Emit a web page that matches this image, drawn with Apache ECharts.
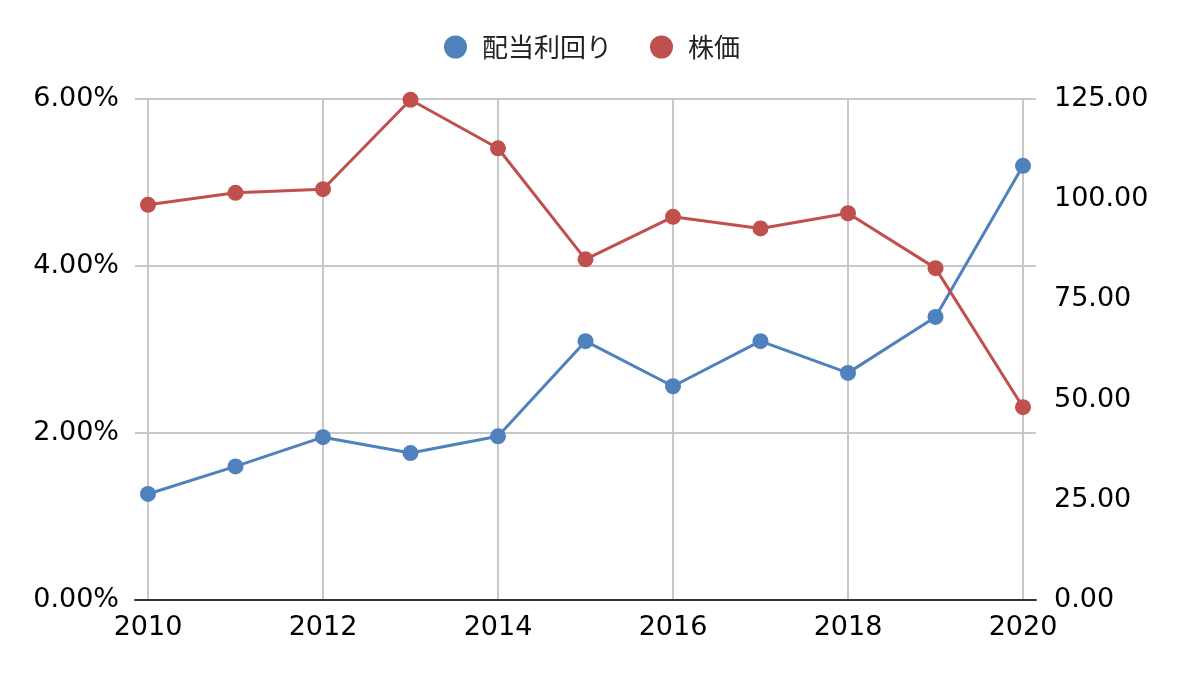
<!DOCTYPE html>
<html><head><meta charset="utf-8">
<script src="https://cdn.jsdelivr.net/npm/echarts@6/dist/echarts.min.js"></script>
<style>html,body{margin:0;padding:0;background:#fff}#c{width:1184px;height:676px}</style>
</head><body><div id="c"></div>
<script>
const years = [2010, 2011, 2012, 2013, 2014, 2015, 2016, 2017, 2018, 2019, 2020];
const yieldPct = [1.27, 1.60, 1.95, 1.76, 1.96, 3.10, 2.56, 3.10, 2.72, 3.39, 5.20];
const price = [98.6, 101.6, 102.5, 124.8, 112.7, 85.0, 95.6, 92.7, 96.5, 82.8, 48.1];
const seriesNames = ['配当利回り', '株価'];
const colors = ['#4F81BD', '#C0504D'];

const numFont = 'DejaVu Sans';
const chart = echarts.init(document.getElementById('c'));
chart.setOption({
  animation: false,
  color: colors,
  legend: {
    data: seriesNames,
    top: 29, left: 'center',
    icon: 'circle', itemWidth: 23, itemHeight: 23, itemGap: 38,
    textStyle: { fontFamily: 'Noto Sans CJK JP', fontSize: 26, color: '#222', padding: [0, 0, 0, 10] }
  },
  grid: [
    { left: 148, right: 161, top: 99, bottom: 76 },
    { left: 135, right: 148, top: 99, bottom: 76 }
  ],
  xAxis: [
    { type: 'value', gridIndex: 0, min: 2010, max: 2020, interval: 2,
      axisLine: { show: false }, axisTick: { show: false },
      splitLine: { show: true, lineStyle: { color: '#c8c8c8', width: 2 } },
      axisLabel: { fontFamily: numFont, fontSize: 27, color: '#000', margin: 14, formatter: v => String(v) } },
    { type: 'value', gridIndex: 1, min: 0, max: 1, z: 5,
      axisLine: { show: true, onZero: false, lineStyle: { color: '#333', width: 2 } },
      axisTick: { show: false }, axisLabel: { show: false }, splitLine: { show: false } }
  ],
  yAxis: [
    { type: 'value', gridIndex: 0, min: 0, max: 6, show: false },
    { type: 'value', gridIndex: 0, position: 'right', min: 0, max: 125, interval: 25,
      axisLine: { show: false }, axisTick: { show: false }, splitLine: { show: false },
      axisLabel: { fontFamily: numFont, fontSize: 27, color: '#000', margin: 31, formatter: v => v.toFixed(2) } },
    { type: 'value', gridIndex: 1, min: 0, max: 6, interval: 2,
      axisLine: { show: false }, axisTick: { show: false },
      splitLine: { show: true, lineStyle: { color: '#c8c8c8', width: 2 } },
      axisLabel: { fontFamily: numFont, fontSize: 27, color: '#000', margin: 16, formatter: v => v.toFixed(2) + '%' } }
  ],
  series: [
    { name: seriesNames[0], type: 'line', xAxisIndex: 0, yAxisIndex: 0,
      data: years.map((y, i) => [y, yieldPct[i]]),
      symbol: 'circle', symbolSize: 16, lineStyle: { width: 3 }, z: 3 },
    { name: seriesNames[1], type: 'line', xAxisIndex: 0, yAxisIndex: 1,
      data: years.map((y, i) => [y, price[i]]),
      symbol: 'circle', symbolSize: 16, lineStyle: { width: 3 }, z: 3 }
  ]
});
</script></body></html>
